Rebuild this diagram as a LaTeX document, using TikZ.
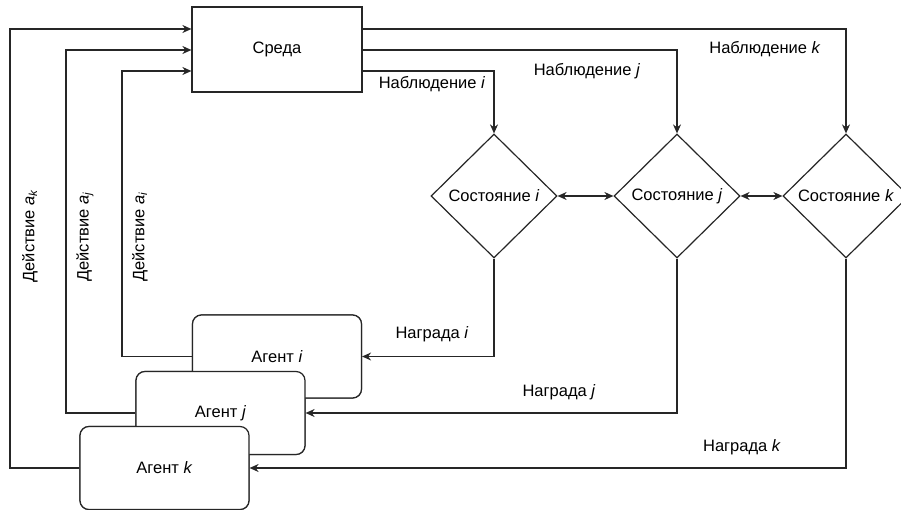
\documentclass[tikz,border=0pt]{standalone}
\usepackage{fontspec}
\setmainfont{Liberation Sans}
\usetikzlibrary{shapes.geometric,arrows.meta}
\begin{document}
\begin{tikzpicture}[x=1pt,y=-1pt,
  font=\fontsize{16.5}{19}\selectfont,
  line/.style={draw=black!85,line width=1.2pt},
  arr/.style={line,-{Stealth[length=9pt,width=8pt]}},
  darr/.style={line,{Stealth[length=9pt,width=8pt]}-{Stealth[length=9pt,width=8pt]}},
  envbox/.style={line,rectangle,minimum width=170pt,minimum height=85pt,inner sep=0pt,fill=white},
  agentbox/.style={line,rectangle,rounded corners=9pt,minimum width=169pt,minimum height=83pt,inner sep=0pt,fill=white},
  statebox/.style={line,diamond,minimum width=126pt,minimum height=124pt,inner sep=0pt,fill=white},
  lbl/.style={inner sep=0pt}
]
\clip (0,0) rectangle (901,510);
\fill[white] (0,0) rectangle (901,510);

\node[envbox] (env) at (277,49.5) {Среда};

\node[statebox] (si) at (494,196) {Состояние \textit{i}};
\node[statebox] (sj) at (677,196) {Состояние \textit{j}};
\node[statebox] (sk) at (846,196) {Состояние \textit{k}};

\node[agentbox] (ai) at (277,356.5) {Агент \textit{i}};
\node[agentbox] (aj) at (220.5,413) {Агент \textit{j}};
\node[agentbox] (ak) at (164.5,468) {Агент \textit{k}};

% observations
\draw[arr] (env.east |- 0,29) -| (sk.north);
\draw[arr] (env.east |- 0,50) -| (sj.north);
\draw[arr] (env.east |- 0,71) -| (si.north);

% state links
\draw[darr] (si.east) -- (sj.west);
\draw[darr] (sj.east) -- (sk.west);

% rewards
\draw[arr] (si.south) |- (ai.east);
\draw[arr] (sj.south) |- (aj.east);
\draw[arr] (sk.south) |- (ak.east);

% actions
\coordinate (ci) at (122,356.5);
\coordinate (cj) at (66,413);
\coordinate (ck) at (10,468);
\draw[arr] (ai.west) -- (ci) |- (env.west |- 0,71);
\draw[arr] (aj.west) -- (cj) |- (env.west |- 0,50);
\draw[arr] (ak.west) -- (ck) |- (env.west |- 0,29);

% redraw agents on top in order
\node[agentbox] at (ai) {Агент \textit{i}};
\node[agentbox] at (aj) {Агент \textit{j}};
\node[agentbox] at (ak) {Агент \textit{k}};

% labels
\node[lbl] (lo1) at (432,84) {Наблюдение \textit{i}};
\node[lbl] (lo2) at (587,71) {Наблюдение \textit{j}};
\node[lbl] (lo3) at (765,49) {Наблюдение \textit{k}};
\node[lbl] (lr1) at (432,334) {Награда \textit{i}};
\node[lbl] (lr2) at (559,392) {Награда \textit{j}};
\node[lbl] (lr3) at (742,447) {Награда \textit{k}};
\node[lbl,rotate=90] (la3) at (30,236) {Действие \textit{a}\textsubscript{\textit{k}}};
\node[lbl,rotate=90] (la2) at (85,237) {Действие \textit{a}\textsubscript{\textit{j}}};
\node[lbl,rotate=90] (la1) at (140,237) {Действие \textit{a}\textsubscript{\textit{i}}};
\end{tikzpicture}
\end{document}
